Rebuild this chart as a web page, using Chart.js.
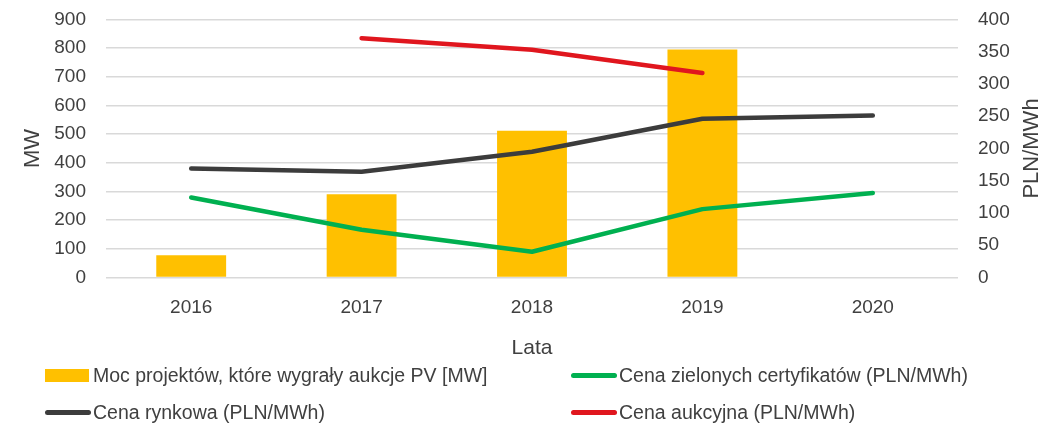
<!DOCTYPE html>
<html>
<head>
<meta charset="utf-8">
<script src="https://cdn.jsdelivr.net/npm/chart.js@4"></script>
<style>
  body { margin: 0; background: #fff; }
  #wrap { position: relative; width: 1062px; height: 425px; }
  #legend { position: absolute; left: 0; top: 0; width: 1062px; height: 425px; pointer-events: none;
            font-family: "Liberation Sans", Arial, sans-serif; font-size: 19.5px; color: #404040; }
  .item { position: absolute; display: flex; align-items: center; white-space: nowrap; height: 24px; }
  .box { width: 44px; height: 13px; margin-right: 4px; }
  .ln { width: 46px; height: 5px; border-radius: 3px; margin-right: 2px; }
</style>
</head>
<body>
<div id="wrap">
  <canvas id="chart" width="1062" height="425"></canvas>
  <div id="legend"></div>
</div>
<script>
// dane
const lata = ['2016', '2017', '2018', '2019', '2020'];
const mocProjektow = [78, 290, 512, 795, null];
const cenaZielonych = [124, 74, 40, 106, 131];
const cenaRynkowa = [169, 164, 195, 246, 251];
const cenaAukcyjna = [null, 371, 353, 317, null];

const mwTicks = [0, 900, 100];
const plnTicks = [0, 400, 50];

const fontName = '"Liberation Sans", Arial, sans-serif';
const txt = '#404040';

// tytul prawej osi czytany od dolu do gory
const rightTitle = {
  id: 'rightTitle',
  afterDraw(chart) {
    const ctx = chart.ctx;
    const area = chart.chartArea;
    ctx.save();
    ctx.translate(1032, (area.top + area.bottom) / 2);
    ctx.rotate(-Math.PI / 2);
    ctx.font = '22px ' + fontName;
    ctx.fillStyle = txt;
    ctx.textAlign = 'center';
    ctx.textBaseline = 'middle';
    ctx.fillText('PLN/MWh', 0, 0);
    ctx.restore();
  }
};

let canva = document.getElementById('chart').getContext('2d');
var chart = new Chart(canva, {
  type: 'bar',
  data: {
    labels: lata,
    datasets: [
      {
        label: 'Moc projektów, które wygrały aukcje PV [MW]',
        data: mocProjektow,
        backgroundColor: '#FFC000',
        yAxisID: 'y',
        order: 2,
        categoryPercentage: 1,
        barPercentage: 0.41
      },
      {
        type: 'line',
        label: 'Cena zielonych certyfikatów (PLN/MWh)',
        data: cenaZielonych,
        borderColor: '#00B050',
        backgroundColor: '#00B050',
        yAxisID: 'y1',
        order: 1
      },
      {
        type: 'line',
        label: 'Cena rynkowa (PLN/MWh)',
        data: cenaRynkowa,
        borderColor: '#3C3C3C',
        backgroundColor: '#3C3C3C',
        yAxisID: 'y1',
        order: 1
      },
      {
        type: 'line',
        label: 'Cena aukcyjna (PLN/MWh)',
        data: cenaAukcyjna,
        borderColor: '#E0161E',
        backgroundColor: '#E0161E',
        yAxisID: 'y1',
        order: 1
      }
    ]
  },
  options: {
    responsive: false,
    animation: false,
    layout: { autoPadding: false, padding: { top: 19.5, bottom: 64, left: 0, right: 0 } },
    elements: {
      line: { borderWidth: 4.5, tension: 0, borderCapStyle: 'round', borderJoinStyle: 'round', fill: false },
      point: { radius: 0, hoverRadius: 0 }
    },
    plugins: {
      legend: { display: false },
      tooltip: { enabled: false }
    },
    scales: {
      x: {
        grid: { display: false, drawTicks: false },
        border: { display: false },
        ticks: { color: txt, font: { family: fontName, size: 19 }, padding: 19 },
        title: { display: true, text: 'Lata', color: txt, font: { family: fontName, size: 21 }, padding: 0 },
        afterFit(s) { s.height = 83.5; s.paddingLeft = 0; s.paddingRight = 0; }
      },
      y: {
        position: 'left',
        min: mwTicks[0], max: mwTicks[1],
        ticks: { stepSize: mwTicks[2], color: txt, font: { family: fontName, size: 19 }, padding: 20 },
        grid: { color: '#D9D9D9', lineWidth: 1.5, drawTicks: false },
        border: { display: false },
        title: { display: true, text: 'MW', color: txt, font: { family: fontName, size: 22 }, padding: { top: 20 } },
        afterFit(s) { s.width = 106; s.paddingTop = 0; s.paddingBottom = 0; }
      },
      y1: {
        position: 'right',
        min: plnTicks[0], max: plnTicks[1],
        ticks: { stepSize: plnTicks[2], color: txt, font: { family: fontName, size: 19 }, padding: 20 },
        grid: { display: false, drawTicks: false },
        border: { display: false },
        afterFit(s) { s.width = 104; s.paddingTop = 0; s.paddingBottom = 0; }
      }
    }
  },
  plugins: [rightTitle]
});

// legenda w dwoch kolumnach
const pos = [[45, 363], [571, 363], [45, 400], [571, 400]];
const legend = document.getElementById('legend');
chart.data.datasets.forEach((ds, i) => {
  const item = document.createElement('div');
  item.className = 'item';
  item.style.left = pos[i][0] + 'px';
  item.style.top = pos[i][1] + 'px';
  const sw = document.createElement('span');
  sw.className = ds.type === 'line' ? 'ln' : 'box';
  sw.style.background = ds.type === 'line' ? ds.borderColor : ds.backgroundColor;
  item.appendChild(sw);
  item.appendChild(document.createTextNode(ds.label));
  legend.appendChild(item);
});
</script>
</body>
</html>
